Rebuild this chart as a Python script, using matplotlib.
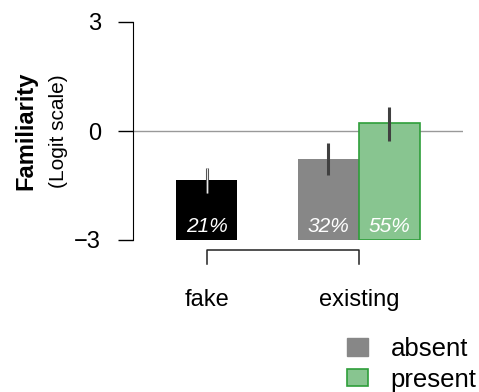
import matplotlib
matplotlib.use("Agg")
import matplotlib.pyplot as plt
from matplotlib.patches import Patch

plt.rcParams['font.family'] = ['Liberation Sans', 'DejaVu Sans']

# data
bar_x = [0, 2, 3]
bar_vals = [-1.35, -0.78, 0.21]
err_lo = [-1.70, -1.21, -0.28]
err_hi = [-1.02, -0.34, 0.67]
pct_labels = ['21%', '32%', '55%']
bar_colors = ['black', '#878787', '#88c590']
edge_colors = ['black', '#878787', '#2e9e3a']
group_x = [0, 2.5]
group_labels = ['fake', 'existing']
legend_labels = ['absent', 'present']

W, H = 479, 392
fig = plt.figure(figsize=(W / 100, H / 100), dpi=100)
ax = fig.add_axes([133 / W, 152 / H, (463 - 133) / W, (370 - 152) / H])

base = -3
ax.set_ylim(-3, 3)
ax.set_xlim(-1.205, 4.205)

ax.axhline(0, color='#999999', lw=1, zorder=1)
for x, v, c, ec in zip(bar_x, bar_vals, bar_colors, edge_colors):
    ax.bar(x, v - base, bottom=base, width=1, color=c, edgecolor=ec,
           linewidth=1.2 if ec != c else 0, zorder=2)

for i, (x, lo, hi) in enumerate(zip(bar_x, err_lo, err_hi)):
    ax.vlines(x, lo, hi, color='#404040', lw=2.2, zorder=3)
    if i == 0:
        ax.vlines(x, lo, hi, color='#e8e8e8', lw=0.9, zorder=4)

for x, t in zip(bar_x, pct_labels):
    ax.text(x, -2.64, t, color='white', fontsize=15, style='italic',
            ha='center', va='center', zorder=5)

# bracket under groups
ax.plot([group_x[0], group_x[0], group_x[1], group_x[1]],
        [-3.66, -3.27, -3.27, -3.66], color='#222222', lw=1.1,
        clip_on=False)
for x, t in zip(group_x, group_labels):
    ax.text(x, -4.65, t, fontsize=17, ha='center', va='center')

for s in ['top', 'right', 'bottom']:
    ax.spines[s].set_visible(False)
ax.spines['left'].set_bounds(-3, 3)
ax.set_xticks([])
ax.set_yticks([-3, 0, 3])
ax.set_yticklabels(['\u22123', '0', '3'])
ax.tick_params(axis='y', length=11, width=1, labelsize=17, pad=12)

fig.text(26 / W, 1 - 131 / H, 'Familiarity', rotation=90, fontsize=17,
         fontweight='bold', ha='center', va='center')
fig.text(59 / W, 1 - 131 / H, '(Logit scale)', rotation=90, fontsize=15,
         ha='center', va='center')

handles = [Patch(facecolor=bar_colors[1], edgecolor=edge_colors[1]),
           Patch(facecolor=bar_colors[2], edgecolor=edge_colors[2], lw=1.2)]
fig.legend(handles, legend_labels, loc='upper left',
           bbox_to_anchor=(347 / W, 1 - 337 / H), frameon=False,
           fontsize=18.5, handlelength=0.8, handleheight=0.65,
           handletextpad=0.9, labelspacing=0.26, borderpad=0,
           borderaxespad=0)

fig.savefig('out.png', dpi=100)
